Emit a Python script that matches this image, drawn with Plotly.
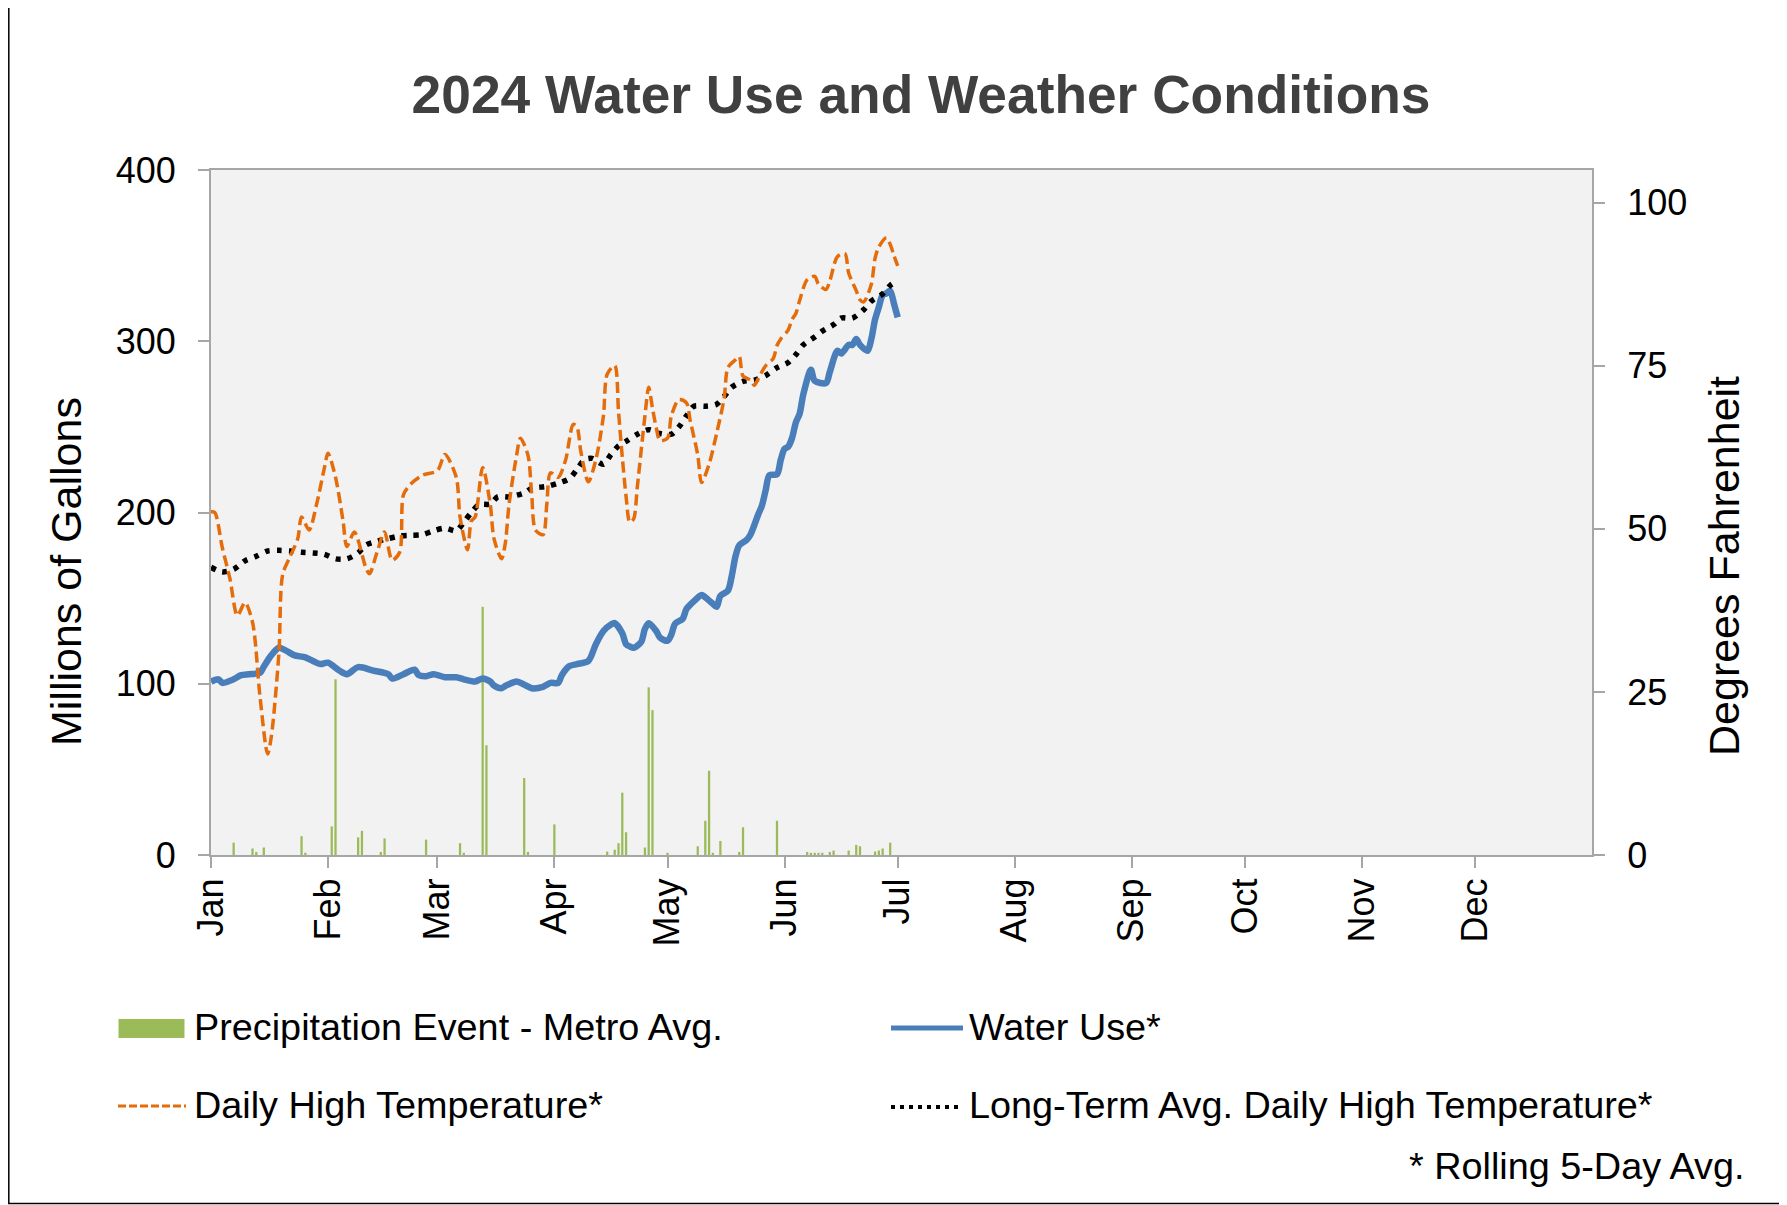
import pandas as pd
import plotly.graph_objects as go

YEAR_START = pd.Timestamp("2024-01-01")
YEAR_END = pd.Timestamp("2025-01-01")

month_labels = ["Jan", "Feb", "Mar", "Apr", "May", "Jun",
                "Jul", "Aug", "Sep", "Oct", "Nov", "Dec"]

# Daily high temperature (deg F, rolling 5-day avg.), day index 0 = Jan 1
temp_days = [0, 1, 3, 5, 7, 9, 11, 13, 15, 16, 18, 19, 21, 23, 24, 26, 28, 30, 31, 33,
             35, 36, 38, 41, 42, 44, 46, 48, 50, 51, 53, 56, 60, 62, 65, 66, 68, 69, 70, 72,
             74, 75, 77, 78, 79, 81, 82, 84, 85, 86, 88, 89, 90, 92, 94, 96, 97, 98, 100, 102,
             104, 105, 107, 108, 109, 110, 111, 112, 113, 115, 116, 117, 118, 119, 121, 122, 124, 126, 127, 129,
             130, 132, 134, 136, 137, 139, 140, 141, 143, 144, 145, 147, 149, 150, 151, 153, 154, 155, 156, 158,
             160, 161, 163, 164, 166, 168, 169, 171, 172, 173, 175, 176, 177, 179, 180, 181, 182]
temp_vals = [52.6, 52.5, 47.1, 42.4, 36.7, 38.7, 35.7, 24.2, 15.5, 18.2, 31.0, 43.0, 45.8, 48.5, 51.8, 49.8, 53.8, 59.2, 61.6, 57.9,
             51.2, 47.3, 49.5, 44.1, 43.1, 46.4, 49.5, 45.2, 46.4, 55.2, 56.9, 58.2, 58.9, 61.4, 57.9, 51.8, 46.8, 51.2, 51.8, 59.4,
             53.8, 48.5, 45.4, 47.8, 53.8, 61.3, 63.9, 61.3, 55.2, 49.8, 49.1, 53.8, 58.6, 57.9, 60.6, 66.0, 65.6, 61.9, 57.2, 60.6,
             67.3, 73.7, 75.0, 68.0, 61.0, 55.0, 51.0, 51.5, 56.5, 67.3, 71.7, 68.5, 65.5, 63.5, 63.9, 67.3, 69.8, 69.3, 66.6, 61.3,
             57.1, 59.9, 64.6, 70.0, 74.7, 75.9, 76.4, 73.4, 72.8, 72.0, 73.0, 75.0, 76.1, 78.1, 79.1, 80.5, 82.1, 83.0, 85.0, 88.2,
             88.7, 87.5, 86.7, 88.0, 91.7, 92.2, 89.2, 86.5, 85.1, 84.8, 87.5, 91.5, 93.2, 94.6, 93.6, 91.9, 90.3]

# Long-term average daily high temperature (deg F)
lt_days = [0, 3, 6, 9, 12, 15, 18, 21, 24, 27, 30, 33, 36, 39, 41, 44, 47, 50, 53, 56,
           59, 62, 65, 67, 69, 71, 74, 76, 79, 83, 85, 89, 92, 95, 97, 99, 101, 104, 106, 108,
           110, 113, 116, 119, 122, 124, 126, 128, 131, 134, 136, 138, 141, 144, 147, 150, 153, 155, 157, 160,
           162, 165, 167, 170, 173, 175, 178, 180, 181]
lt_vals = [44.1, 43.4, 43.8, 45.1, 45.8, 46.6, 46.7, 46.6, 46.4, 46.3, 46.1, 45.4, 45.4, 46.3, 47.5, 48.1, 48.5, 48.9, 49.0, 49.1,
           49.7, 50.1, 49.7, 51.0, 52.5, 53.7, 53.8, 54.9, 54.9, 55.5, 56.2, 56.5, 57.0, 57.7, 59.1, 60.6, 60.8, 59.9, 61.4, 62.7,
           63.4, 64.5, 65.2, 64.6, 64.5, 65.6, 67.3, 68.8, 68.8, 69.1, 70.3, 71.7, 72.6, 72.8, 73.5, 74.7, 75.5, 76.7, 78.2, 79.4,
           80.3, 81.3, 82.3, 82.3, 83.6, 84.9, 86.0, 87.3, 87.7]

# Water use (millions of gallons, rolling 5-day avg.)
water_days = [0, 2, 3, 6, 8, 10, 13, 14, 16, 18, 20, 22, 25, 27, 29, 31, 34, 36, 39, 43,
              47, 48, 51, 54, 55, 57, 59, 62, 65, 67, 70, 72, 74, 75, 77, 78, 81, 83, 85, 88,
              90, 92, 93, 95, 97, 100, 102, 104, 106, 107, 109, 110, 111, 112, 114, 115, 116, 118, 119, 121,
              122, 123, 125, 126, 128, 130, 131, 133, 134, 135, 137, 138, 139, 140, 142, 143, 145, 146, 147, 148,
              150, 151, 152, 153, 154, 155, 156, 157, 159, 160, 163, 164, 166, 167, 169, 170, 171, 172, 174, 175,
              176, 177, 178, 179, 180, 181, 182]
water_vals = [101.3, 102.6, 100.5, 102.6, 105.0, 105.6, 106.4, 110.0, 116.7, 121.0, 119.2, 116.7, 115.4, 113.3, 111.5, 112.3, 107.7, 105.6, 109.7, 107.7,
              105.6, 103.0, 105.6, 108.2, 105.1, 104.4, 105.6, 103.8, 103.8, 102.6, 101.3, 103.1, 101.3, 99.0, 97.4, 98.7, 101.3, 99.5, 97.4, 98.2,
              100.5, 100.5, 105.1, 110.3, 111.5, 113.3, 123.1, 130.8, 134.6, 135.4, 129.5, 123.1, 121.8, 121.0, 124.4, 132.0, 135.4, 130.8, 126.9, 125.1,
              128.7, 135.1, 137.9, 143.6, 148.2, 151.8, 150.5, 146.7, 144.9, 151.3, 154.4, 162.8, 174.4, 180.8, 184.1, 187.2, 198.7, 204.0, 213.0, 221.8,
              222.3, 230.8, 237.2, 238.5, 243.6, 252.6, 257.7, 269.2, 283.3, 276.9, 275.6, 282.1, 294.4, 292.8, 297.9, 297.9, 301.3, 297.9, 294.4, 301.3,
              312.8, 320.0, 327.0, 328.0, 329.5, 322.0, 314.0]

# Precipitation events - metro avg. (plotted on the left axis)
precip_days = [6, 11, 12, 14, 24, 25, 32, 33, 39, 40, 45, 46, 57, 66, 67, 72, 73, 83, 84, 91,
               105, 107, 108, 109, 110, 115, 116, 117, 121, 129, 131, 132, 133, 135, 140, 141, 150, 158, 159, 160,
               161, 162, 164, 165, 169, 171, 172, 176, 177, 178, 180]
precip_vals = [7.2, 3.8, 1.8, 4.4, 11.0, 1.3, 16.7, 102.6, 10.3, 14.1, 1.8, 9.7, 9.0, 6.9, 1.3, 144.9, 64.1, 44.9, 1.8, 17.9,
               2.0, 3.1, 6.9, 36.4, 13.3, 4.4, 97.9, 84.6, 1.3, 5.1, 20.0, 49.2, 1.3, 8.2, 1.8, 16.2, 20.0, 1.8, 1.3, 1.3,
               1.3, 1.3, 1.8, 2.6, 2.6, 5.9, 5.1, 2.0, 2.6, 3.8, 7.2]


def to_dates(days):
    return [YEAR_START + pd.Timedelta(days=d) for d in days]


# ---------------- layout geometry ----------------
# Page pixel coordinates; the page body adds an 8px margin around the figure.
PAGE_W, PAGE_H = 1787, 1205
OFF = 8
W, H = PAGE_W - OFF, PAGE_H - OFF
PL, PR, PT, PB = 211, 1592, 170, 855          # plot area in page pixels
FONT = "Liberation Sans, Arial, sans-serif"
AXIS_COLOR = "#A6A6A6"

GREEN = "#9BBB59"
BLUE = "#4A7EBB"
ORANGE = "#E46C0A"
BLACK = "#000000"


def px_x(p):
    return (p - PL) / (PR - PL)


def px_y(p):
    return (PB - p) / (PB - PT)


fig = go.Figure()

fig.add_trace(go.Bar(
    x=to_dates(precip_days), y=precip_vals,
    width=0.6 * 86400000, marker=dict(color=GREEN, line=dict(width=0)),
    name="Precipitation Event - Metro Avg.", yaxis="y", showlegend=False))

fig.add_trace(go.Scatter(
    x=to_dates(water_days), y=water_vals, mode="lines",
    line=dict(color=BLUE, width=6.5, shape="spline", smoothing=0.8),
    name="Water Use*", yaxis="y", showlegend=False))

fig.add_trace(go.Scatter(
    x=to_dates(lt_days), y=lt_vals, mode="lines",
    line=dict(color=BLACK, width=5.5, dash="5px,7px", shape="spline", smoothing=0.8),
    name="Long-Term Avg. Daily High Temperature*", yaxis="y2", showlegend=False))

fig.add_trace(go.Scatter(
    x=to_dates(temp_days), y=temp_vals, mode="lines",
    line=dict(color=ORANGE, width=3.5, dash="11px,5px", shape="spline", smoothing=0.8),
    name="Daily High Temperature*", yaxis="y2", showlegend=False))

tick_font = dict(family=FONT, size=36, color="#000000")

fig.update_layout(
    width=W, height=H,
    margin=dict(l=PL - OFF, r=PAGE_W - PR, t=PT - OFF, b=PAGE_H - PB, pad=0),
    paper_bgcolor="#FFFFFF",
    plot_bgcolor="#F2F2F2",
    showlegend=False,
    title=dict(text="2024 Water Use and Weather Conditions",
               x=(921 - OFF) / W, xanchor="center", xref="container",
               y=1 - (94 - OFF) / H, yanchor="middle", yref="container",
               font=dict(family=FONT, size=53.3, color="#404040", weight="bold")),
    xaxis=dict(type="date", range=[YEAR_START, YEAR_END],
               tickvals=[YEAR_START + pd.DateOffset(months=i) for i in range(12)],
               ticktext=month_labels, tickangle=-90, tickfont=tick_font,
               ticks="outside", ticklen=11, tickwidth=2, tickcolor=AXIS_COLOR,
               showline=True, linecolor=AXIS_COLOR, linewidth=2, mirror=True,
               showgrid=False, zeroline=False, ticklabelstandoff=-4),
    yaxis=dict(range=[0, 400], tickvals=[0, 100, 200, 300, 400], tickfont=tick_font,
               ticks="outside", ticklen=11, tickwidth=2, tickcolor=AXIS_COLOR,
               showline=True, linecolor=AXIS_COLOR, linewidth=2,
               showgrid=False, zeroline=False, ticklabelstandoff=15),
    yaxis2=dict(range=[0, 105], tickvals=[0, 25, 50, 75, 100], tickfont=tick_font,
                overlaying="y", side="right",
                ticks="outside", ticklen=11, tickwidth=2, tickcolor=AXIS_COLOR,
                showline=True, linecolor=AXIS_COLOR, linewidth=2,
                showgrid=False, zeroline=False, ticklabelstandoff=15),
)

annotations = []
# axis titles
annotations.append(dict(text="Millions of Gallons", textangle=-90,
                        x=px_x(66), y=px_y(572), xref="paper", yref="paper",
                        xanchor="center", yanchor="middle", showarrow=False,
                        font=dict(family=FONT, size=43, color="#000000")))
annotations.append(dict(text="Degrees Fahrenheit", textangle=-90,
                        x=px_x(1724), y=px_y(566), xref="paper", yref="paper",
                        xanchor="center", yanchor="middle", showarrow=False,
                        font=dict(family=FONT, size=43, color="#000000")))

# legend texts
leg_font = dict(family=FONT, size=37.8, color="#000000")
legend_items = [
    ("Precipitation Event - Metro Avg.", 192, 1027),
    ("Water Use*", 967, 1027),
    ("Daily High Temperature*", 192, 1105),
    ("Long-Term Avg. Daily High Temperature*", 967, 1105),
]
for txt, lx, ly in legend_items:
    annotations.append(dict(text=txt, x=px_x(lx), y=px_y(ly), xref="paper", yref="paper",
                            xanchor="left", yanchor="middle", showarrow=False, font=leg_font))
annotations.append(dict(text="* Rolling 5-Day Avg.", x=px_x(1746), y=px_y(1166),
                        xref="paper", yref="paper", xanchor="right", yanchor="middle",
                        showarrow=False, font=leg_font))
fig.update_layout(annotations=annotations)

shapes = [
    # outer chart border
    dict(type="rect", xref="paper", yref="paper",
         x0=px_x(8.8), x1=px_x(1781), y0=px_y(1203.5), y1=px_y(-5),
         line=dict(color="#000000", width=1.5), fillcolor="rgba(0,0,0,0)", layer="above"),
    # legend symbols
    dict(type="rect", xref="paper", yref="paper",
         x0=px_x(118.5), x1=px_x(184.5), y0=px_y(1038), y1=px_y(1019),
         fillcolor=GREEN, line=dict(width=0)),
    dict(type="line", xref="paper", yref="paper",
         x0=px_x(891), x1=px_x(963), y0=px_y(1028), y1=px_y(1028),
         line=dict(color=BLUE, width=5)),
    dict(type="line", xref="paper", yref="paper",
         x0=px_x(118), x1=px_x(186), y0=px_y(1106), y1=px_y(1106),
         line=dict(color=ORANGE, width=3, dash="8px,3px")),
    dict(type="line", xref="paper", yref="paper",
         x0=px_x(891), x1=px_x(961), y0=px_y(1107), y1=px_y(1107),
         line=dict(color=BLACK, width=4, dash="4px,5px")),
]
fig.update_layout(shapes=shapes)

fig.write_html("out.html")
